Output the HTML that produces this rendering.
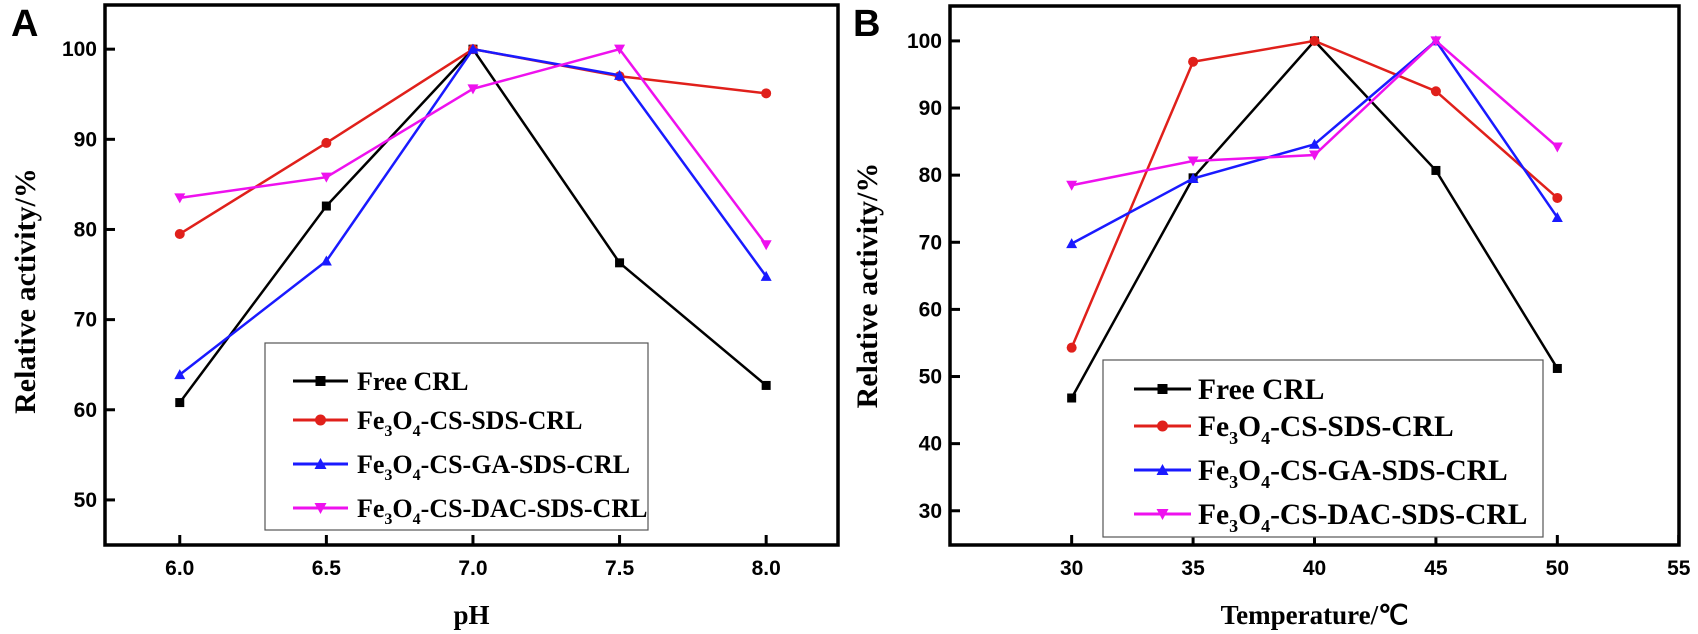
<!DOCTYPE html>
<html><head><meta charset="utf-8"><style>
body{margin:0;background:#fff;}
svg{display:block;}
.tk{font-family:"Liberation Sans",sans-serif;font-weight:bold;font-size:21px;fill:#000;}
.tt{font-family:"Liberation Serif",serif;font-weight:bold;font-size:27px;fill:#000;}
.yt{font-family:"Liberation Serif",serif;font-weight:bold;font-size:30px;fill:#000;}
</style></head><body>
<svg id="fig" width="1698" height="634" viewBox="0 0 1698 634" xmlns="http://www.w3.org/2000/svg"></svg>
<script>
const seriesNames = ["Free CRL","Fe3O4-CS-SDS-CRL","Fe3O4-CS-GA-SDS-CRL","Fe3O4-CS-DAC-SDS-CRL"];
const colors = ["#000000","#e0201b","#1a1aff","#ee11ee"];
const markers = ["square","circle","up","down"];
const phX = [6.0,6.5,7.0,7.5,8.0];
const phFree = [60.8,82.6,100,76.3,62.7];
const phSDS = [79.5,89.6,100,97.0,95.1];
const phGA = [63.9,76.5,100,97.1,74.8];
const phDAC = [83.5,85.8,95.6,100,78.3];
const phXTicks = ["6.0","6.5","7.0","7.5","8.0"];
const phYTicks = [50,60,70,80,90,100];
const tX = [30,35,40,45,50];
const tFree = [46.8,79.6,100,80.7,51.2];
const tSDS = [54.3,96.9,100,92.5,76.6];
const tGA = [69.8,79.5,84.6,100,73.7];
const tDAC = [78.5,82.1,83.0,100,84.2];
const tXTicks = [30,35,40,45,50,55];
const tYTicks = [30,40,50,60,70,80,90,100];

const NS="http://www.w3.org/2000/svg";
const svg=document.getElementById('fig');
function el(tag,attrs,parent,text){const e=document.createElementNS(NS,tag);for(const k in attrs)e.setAttribute(k,attrs[k]);if(text!==undefined)e.textContent=text;(parent||svg).appendChild(e);return e;}
function marker(g,type,x,y,c,s){
  let m;
  if(type==="square") m=el('rect',{x:x-s,y:y-s,width:2*s,height:2*s,fill:c},g);
  else if(type==="circle") m=el('circle',{cx:x,cy:y,r:s+0.5,fill:c},g);
  else if(type==="up") m=el('polygon',{points:`${x},${y-s-1} ${x-s-1},${y+s} ${x+s+1},${y+s}`,fill:c},g);
  else m=el('polygon',{points:`${x},${y+s+1} ${x-s-1},${y-s} ${x+s+1},${y-s}`,fill:c},g);
  
  
}
function panel(o){
  const g=el('g',{},svg);
  
  
  const sx=v=>o.L+(v-o.x0)/(o.x1-o.x0)*(o.R-o.L);
  const sy=v=>o.B-(v-o.y0)/(o.y1-o.y0)*(o.B-o.T);
  o.yt.forEach(v=>{const y=sy(v);
    const t=el('line',{x1:o.L,x2:o.L+10,y1:y,y2:y,stroke:'#000','stroke-width':3},g);
    
    const l=el('text',{x:o.L-8,y:y+7,'text-anchor':'end',class:'tk'},g,String(v));
    });
  o.xt.forEach(v=>{const x=sx(+v);
    const t=el('line',{x1:x,x2:x,y1:o.B,y2:o.B-10,stroke:'#000','stroke-width':3},g);
    
    const l=el('text',{x:x,y:o.B+30,'text-anchor':'middle',class:'tk'},g,String(v));
    });
  o.series.forEach((d,i)=>{
    const sg=el('g',{},g);
    
    
    const pts=o.xs.map((x,j)=>sx(x)+','+sy(d[j])).join(' ');
    const pl=el('polyline',{points:pts,fill:'none',stroke:colors[i],'stroke-width':2.5},sg);
    
    o.xs.forEach((x,j)=>marker(sg,markers[i],sx(x),sy(d[j]),colors[i],4.5));
  });
  const f=el('rect',{x:o.L,y:o.T,width:o.R-o.L,height:o.B-o.T,fill:'none',stroke:'#000','stroke-width':3.5},g);
  
  const lg=el('g',{},g);
  
  const lb=el('rect',{x:o.lg.x,y:o.lg.y,width:o.lg.w,height:o.lg.h,fill:'#fff',stroke:'#555','stroke-width':1.2},lg);
  
  const fs=o.lg.fs, sub=Math.round(fs*0.62), dd=Math.round(fs*0.27);
  o.lg.rows.forEach((y,i)=>{
    const e=el('g',{},lg);
    
    el('line',{x1:o.lg.lx1,x2:o.lg.lx2,y1:y,y2:y,stroke:colors[i],'stroke-width':3},e);
    marker(e,markers[i],(o.lg.lx1+o.lg.lx2)/2,y,colors[i],5);
    const t=el('text',{x:o.lg.tx,y:y+Math.round(fs*0.35),style:`font-family:"Liberation Serif",serif;font-weight:bold;font-size:${fs}px;fill:#000`},e);
    if(i===0){t.textContent=seriesNames[0];}
    else{const parts=seriesNames[i].split('-');const rest=parts.slice(1).join('-');
      el('tspan',{},t,'Fe');el('tspan',{dy:dd,style:`font-size:${sub}px`},t,'3');
      el('tspan',{dy:-dd},t,'O');el('tspan',{dy:dd,style:`font-size:${sub}px`},t,'4');
      el('tspan',{dy:-dd},t,'-'+rest);}
  });
  const xt=el('text',{x:(o.L+o.R)/2,y:624,'text-anchor':'middle',class:'tt'},g,o.xtitle);
  
  const yt=el('text',{x:0,y:0,'text-anchor':'middle',class:'yt',transform:`translate(${o.ytx},${(o.T+o.B)/2+o.ytdy}) rotate(-90)`},g,'Relative activity/%');
  
  const pl=el('text',{x:o.labX,y:36,style:'font-family:"Liberation Sans",sans-serif;font-weight:bold;font-size:38px'},g,o.label);
  
}
panel({name:'panel-a-ph',L:105,R:838,T:5,B:545,x0:5.745,x1:8.245,y0:45.0,y1:104.9,
  xs:phX,series:[phFree,phSDS,phGA,phDAC],xt:phXTicks,yt:phYTicks,
  xtitle:'pH',ytx:35,ytdy:16,label:'A',labX:11,
  lg:{x:265,y:343,w:383,h:187,rows:[381,420,464,508],lx1:293,lx2:348,tx:357,fs:26}});
panel({name:'panel-b-temperature',L:950,R:1679,T:6,B:545,x0:24.99,x1:55.01,y0:24.9,y1:105.2,
  xs:tX,series:[tFree,tSDS,tGA,tDAC],xt:tXTicks,yt:tYTicks,
  xtitle:'Temperature/℃',ytx:877,ytdy:10,label:'B',labX:853,
  lg:{x:1103,y:360,w:440,h:177,rows:[389,426,470,514],lx1:1134,lx2:1191,tx:1198,fs:29.5}});
</script>
</body></html>
